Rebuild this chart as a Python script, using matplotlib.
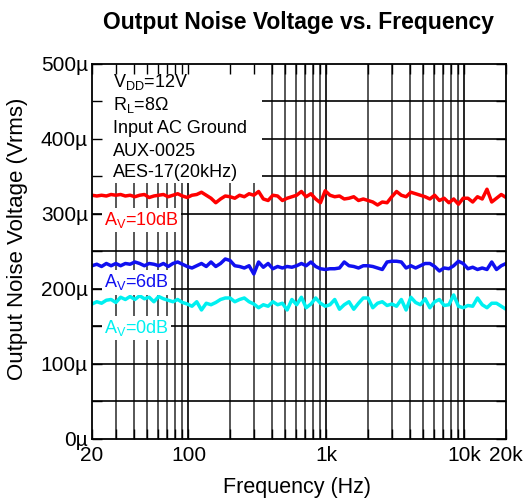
import numpy as np
import matplotlib.pyplot as plt
from matplotlib.patches import Rectangle
from matplotlib.ticker import FixedLocator, NullFormatter

plt.rcParams['font.family'] = ['Liberation Sans', 'DejaVu Sans']
plt.rcParams['mathtext.fontset'] = 'custom'
plt.rcParams['mathtext.rm'] = 'Liberation Sans'
plt.rcParams['mathtext.it'] = 'Liberation Sans:italic'

# ---------------- data (uV rms), log sweep 20 Hz .. 20 kHz ----------------
n_pts = 88
freq = np.geomspace(20, 20000, n_pts)

av10 = [325, 324, 325, 324, 326, 325, 326, 324, 325, 323, 325, 326, 322, 324, 325,
        326, 323, 325, 327, 324, 322, 325, 326, 329, 325, 321, 315, 320, 324,
        323, 321, 325, 323, 327, 325, 330, 320, 318, 325, 324, 318, 321, 323, 325,
        330, 323, 327, 320, 315, 331, 325, 323, 324, 320, 321, 323, 318, 320,
        318, 316, 312, 316, 315, 323, 330, 325, 323, 329, 327, 325, 323, 320, 325,
        318, 321, 315, 320, 313, 321, 321, 316, 323, 320, 333, 316, 321, 326, 322]
av6 = [231, 233, 230, 234, 231, 234, 231, 234, 233, 236, 234, 231, 234, 233, 231,
       234, 230, 234, 236, 233, 230, 228, 231, 234, 230, 236, 230, 234, 240,
       238, 231, 230, 228, 231, 220, 236, 229, 234, 227, 230, 228, 230, 229, 231,
       234, 231, 236, 230, 227, 226, 227, 227, 228, 236, 231, 230, 228, 231,
       231, 230, 228, 226, 236, 237, 237, 236, 228, 231, 228, 231, 234, 234, 230,
       224, 228, 227, 231, 237, 234, 227, 229, 226, 228, 226, 236, 226, 231, 234]
av0 = [180, 183, 181, 185, 186, 182, 189, 186, 190, 186, 191, 187, 189, 183, 190,
       187, 185, 183, 186, 182, 180, 177, 183, 172, 181, 179, 182, 186, 188,
       188, 183, 186, 188, 183, 180, 175, 179, 177, 183, 179, 181, 172, 186, 179,
       189, 175, 180, 188, 181, 177, 179, 186, 173, 179, 183, 173, 181, 188,
       188, 175, 181, 183, 178, 180, 177, 186, 172, 189, 182, 179, 187, 175, 183,
       186, 178, 179, 192, 177, 175, 178, 177, 188, 179, 175, 181, 181, 177, 173]

x_major = [20, 100, 1000, 10000, 20000]
x_major_labels = ['20', '100', '1k', '10k', '20k']
x_minor = [30, 40, 50, 60, 70, 80, 90, 200, 300, 400, 500, 600, 700, 800, 900,
           2000, 3000, 4000, 5000, 6000, 7000, 8000, 9000]
y_major = [0, 100, 200, 300, 400, 500]
y_minor = [50, 150, 250, 350, 450]

# ---------------- figure ----------------
fig = plt.figure(figsize=(5.26, 4.98), dpi=100)
ax = fig.add_axes([0.175, 0.1185, 0.787, 0.753])
ax.set_xscale('log')
ax.set_xlim(20, 20000)
ax.set_ylim(0, 500)

# grid drawn by hand so the note box can sit over it
for xv in x_minor:
    ax.axvline(xv, color='#3a3a3a', lw=1.2, zorder=0.6)
for xv in [100, 1000, 10000]:
    ax.axvline(xv, color='black', lw=1.2, zorder=0.6)
for yv in y_major[1:-1] + y_minor:
    ax.axhline(yv, color='black', lw=1.2, zorder=0.6)

ax.add_patch(Rectangle((0, 0.683), 0.41, 0.317, transform=ax.transAxes,
                       facecolor='white', edgecolor='none', zorder=0.8))

ax.plot(freq, av10, color='#ff0000', lw=2.5, zorder=2)
ax.plot(freq, av6, color='#1010f0', lw=2.5, zorder=2)
ax.plot(freq, av0, color='#00f0f0', lw=2.5, zorder=2)

lab_box = dict(boxstyle='square,pad=0.12', facecolor='white', edgecolor='none')
ax.text(24.5, 285, r'A$_{\mathrm{V}}$=10dB', color='#ff0000', fontsize=13,
        va='baseline', ha='left', bbox=lab_box, zorder=3)
ax.text(24.5, 202, r'A$_{\mathrm{V}}$=6dB', color='#1010f0', fontsize=13,
        va='baseline', ha='left', bbox=lab_box, zorder=3)
ax.text(24.5, 141, r'A$_{\mathrm{V}}$=0dB', color='#00f0f0', fontsize=13,
        va='baseline', ha='left', bbox=lab_box, zorder=3)

notes = [r'V$_{\mathrm{DD}}$=12V', r'R$_{\mathrm{L}}$=8Ω', 'Input AC Ground',
         'AUX-0025', 'AES-17(20kHz)']
note_y = [0.9395, 0.8773, 0.8168, 0.7547, 0.6979]
for txt, yy in zip(notes, note_y):
    ax.text(0.051, yy, txt, transform=ax.transAxes, fontsize=13,
            va='baseline', ha='left', zorder=3)

ax.xaxis.set_major_locator(FixedLocator(x_major))
ax.set_xticklabels(x_major_labels)
ax.xaxis.set_minor_locator(FixedLocator(x_minor))
ax.xaxis.set_minor_formatter(NullFormatter())
ax.set_yticks(y_major)
ax.set_yticklabels([f'{v}µ' for v in y_major])
ax.set_yticks(y_minor, minor=True)
ax.tick_params(which='both', direction='in', top=True, right=True,
               length=7, width=1, labelsize=15, color='black')
ax.tick_params(axis='x', pad=5)
ax.tick_params(axis='y', pad=3)
for sp in ax.spines.values():
    sp.set_linewidth(1.3)

fig.text(0.568, 0.955, 'Output Noise Voltage vs. Frequency', fontsize=16.5,
         fontweight='bold', ha='center', va='center')
fig.text(0.564, 0.022, 'Frequency (Hz)', fontsize=15.5, ha='center', va='center')
fig.text(0.034, 0.52, 'Output Noise Voltage (Vrms)', fontsize=16,
         rotation=90, ha='center', va='center')

fig.savefig('out.png', dpi=100)
